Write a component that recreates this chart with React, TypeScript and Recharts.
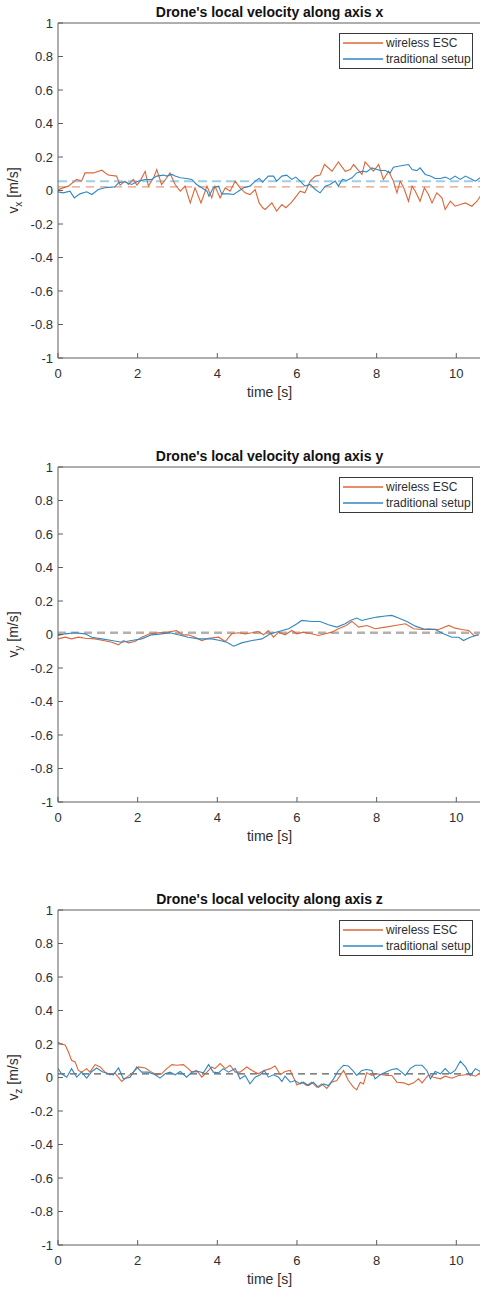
import React from 'react';
import { LineChart, Line, XAxis, YAxis, ReferenceLine, Legend } from 'recharts';

const FONT = '"Liberation Sans", Arial, Helvetica, sans-serif';

const X_TICKS = [0, 2, 4, 6, 8, 10];
const Y_TICKS = [-1, -0.8, -0.6, -0.4, -0.2, 0, 0.2, 0.4, 0.6, 0.8, 1];
const X_DOMAIN = [0, 10.62];
const Y_DOMAIN = [-1, 1];
const SERIES_NAMES = ['wireless ESC', 'traditional setup'];
const TITLES = [
  "Drone's local velocity along axis x",
  "Drone's local velocity along axis y",
  "Drone's local velocity along axis z",
];
const AXIS_SUBS = ['x', 'y', 'z'];
const X_LABEL = 'time [s]';

// ---------- axis x ----------
const VX_WIRELESS_T = [0, 0.26, 0.47, 0.59, 0.68, 0.89, 1.1, 1.26, 1.47, 1.56, 1.68, 1.77, 1.89, 1.98, 2.06, 2.19, 2.27, 2.4, 2.48, 2.6, 2.73, 2.81, 2.94, 3.07, 3.19, 3.32, 3.44, 3.59, 3.74, 3.86, 3.94, 4.07, 4.2, 4.32, 4.45, 4.57, 4.7, 4.82, 4.95, 5.05, 5.14, 5.2, 5.37, 5.49, 5.62, 5.72, 5.85, 5.95, 6.08, 6.2, 6.33, 6.46, 6.58, 6.69, 6.88, 7.04, 7.21, 7.34, 7.42, 7.55, 7.63, 7.71, 7.84, 7.92, 8.05, 8.17, 8.3, 8.42, 8.51, 8.59, 8.68, 8.8, 8.89, 8.97, 9.09, 9.2, 9.3, 9.39, 9.51, 9.64, 9.72, 9.85, 9.97, 10.1, 10.23, 10.39, 10.52, 10.6];
const VX_WIRELESS_V = [0.005, 0.026, 0.066, 0.056, 0.105, 0.105, 0.121, 0.092, 0.086, 0.032, 0.056, 0.036, 0.066, 0.032, 0.056, 0.115, 0.026, 0.076, 0.125, 0.036, 0.076, 0.105, 0.036, -0.004, 0.026, -0.074, 0.016, -0.074, 0.026, -0.044, 0.026, -0.044, 0.016, -0.004, 0.056, 0.016, -0.014, -0.024, 0.006, -0.074, -0.103, -0.113, -0.074, -0.123, -0.084, -0.103, -0.074, -0.044, -0.004, -0.014, 0.056, 0.086, 0.092, 0.155, 0.115, 0.171, 0.115, 0.125, 0.155, 0.119, 0.096, 0.171, 0.135, 0.115, 0.155, 0.066, 0.115, 0.056, -0.014, 0.056, 0.016, -0.064, 0.026, -0.004, -0.064, 0.016, -0.024, -0.074, -0.014, -0.044, -0.113, -0.064, -0.094, -0.084, -0.074, -0.094, -0.064, -0.034];
const VX_TRAD_T = [0, 0.13, 0.3, 0.41, 0.55, 0.72, 0.85, 1.01, 1.18, 1.35, 1.43, 1.52, 1.68, 1.85, 2.02, 2.19, 2.35, 2.48, 2.65, 2.73, 2.86, 2.94, 3.07, 3.23, 3.36, 3.48, 3.61, 3.74, 3.79, 3.9, 4.03, 4.11, 4.28, 4.41, 4.53, 4.66, 4.82, 4.95, 5.05, 5.14, 5.2, 5.28, 5.41, 5.49, 5.62, 5.74, 5.87, 5.97, 6.08, 6.2, 6.33, 6.46, 6.58, 6.71, 6.83, 6.96, 7.04, 7.14, 7.25, 7.38, 7.5, 7.63, 7.75, 7.88, 8.01, 8.09, 8.22, 8.34, 8.42, 8.55, 8.68, 8.8, 8.89, 9.01, 9.09, 9.22, 9.35, 9.47, 9.6, 9.72, 9.85, 9.97, 10.1, 10.23, 10.35, 10.48, 10.6];
const VX_TRAD_V = [-0.008, -0.014, -0.004, -0.044, -0.02, -0.008, -0.024, 0.006, 0.016, 0.02, 0.022, 0.046, 0.052, 0.036, 0.056, 0.066, 0.066, 0.086, 0.092, 0.086, 0.096, 0.086, 0.076, 0.072, 0.066, 0.036, 0.016, -0.004, -0.034, 0.016, 0.026, -0.02, -0.02, -0.024, -0.004, 0.016, 0.026, 0.056, 0.072, 0.05, 0.066, 0.086, 0.086, 0.056, 0.086, 0.092, 0.066, 0.08, 0.056, 0.026, 0.036, 0.006, -0.014, 0.026, 0.036, 0.056, 0.026, 0.066, 0.06, 0.076, 0.105, 0.115, 0.111, 0.135, 0.125, 0.119, 0.119, 0.105, 0.139, 0.145, 0.151, 0.155, 0.125, 0.119, 0.135, 0.096, 0.086, 0.072, 0.072, 0.08, 0.066, 0.086, 0.066, 0.086, 0.072, 0.056, 0.076];
const VX_MEANS = [0.022, 0.055];

// ---------- axis y ----------
const VY_WIRELESS_T = [0, 0.18, 0.34, 0.51, 0.68, 0.93, 1.14, 1.35, 1.52, 1.64, 1.77, 1.93, 2.1, 2.31, 2.52, 2.77, 2.98, 3.11, 3.27, 3.44, 3.61, 3.78, 4.03, 4.2, 4.36, 4.53, 4.7, 4.87, 5.03, 5.16, 5.28, 5.41, 5.54, 5.7, 5.87, 6.0, 6.16, 6.37, 6.54, 6.71, 6.88, 7.04, 7.21, 7.38, 7.55, 7.76, 7.96, 8.22, 8.47, 8.72, 8.93, 9.14, 9.3, 9.56, 9.81, 9.97, 10.14, 10.31, 10.44, 10.56];
const VY_WIRELESS_V = [-0.026, -0.016, -0.026, -0.016, -0.022, -0.026, -0.036, -0.046, -0.062, -0.036, -0.05, -0.042, -0.016, 0.004, 0.01, 0.014, 0.024, -0.002, -0.002, -0.016, -0.036, -0.022, -0.016, -0.042, 0.004, 0.01, 0.004, 0.01, 0.018, -0.002, 0.024, -0.016, 0.014, -0.002, 0.024, 0.004, 0.014, 0.004, -0.006, 0.004, 0.014, 0.034, 0.05, 0.078, 0.044, 0.054, 0.034, 0.044, 0.054, 0.064, 0.034, 0.03, 0.034, 0.03, 0.054, 0.038, 0.03, 0.024, -0.006, -0.002];
const VY_TRAD_T = [0, 0.18, 0.43, 0.68, 0.85, 1.1, 1.35, 1.6, 1.85, 2.1, 2.35, 2.6, 2.81, 3.02, 3.27, 3.53, 3.86, 4.07, 4.24, 4.41, 4.61, 4.87, 5.12, 5.33, 5.54, 5.79, 6.0, 6.12, 6.37, 6.58, 6.79, 7.0, 7.21, 7.34, 7.5, 7.63, 7.8, 8.01, 8.22, 8.38, 8.55, 8.76, 8.97, 9.22, 9.47, 9.68, 9.89, 10.06, 10.18, 10.35, 10.56];
const VY_TRAD_V = [-0.006, 0.004, 0.01, 0.004, -0.016, -0.026, -0.036, -0.046, -0.036, -0.026, -0.002, 0.004, 0.01, -0.002, -0.016, -0.026, -0.026, -0.036, -0.046, -0.07, -0.05, -0.036, -0.026, 0.004, 0.018, 0.034, 0.064, 0.084, 0.078, 0.078, 0.058, 0.044, 0.064, 0.084, 0.098, 0.084, 0.094, 0.104, 0.11, 0.114, 0.098, 0.078, 0.05, 0.03, 0.03, 0.004, -0.016, -0.016, -0.036, -0.016, -0.002];
const VY_MEANS = [0.01];

// ---------- axis z ----------
const VZ_WIRELESS_T = [0, 0.09, 0.18, 0.26, 0.34, 0.43, 0.51, 0.59, 0.72, 0.8, 0.93, 1.06, 1.18, 1.31, 1.43, 1.6, 1.73, 1.89, 2.02, 2.19, 2.35, 2.48, 2.6, 2.73, 2.86, 2.98, 3.15, 3.27, 3.36, 3.48, 3.61, 3.74, 3.86, 3.94, 4.07, 4.2, 4.32, 4.45, 4.57, 4.74, 4.87, 5.03, 5.16, 5.33, 5.45, 5.58, 5.7, 5.83, 6.0, 6.12, 6.25, 6.37, 6.5, 6.62, 6.75, 6.87, 7.0, 7.17, 7.29, 7.42, 7.5, 7.59, 7.67, 7.75, 7.88, 8.01, 8.13, 8.26, 8.38, 8.51, 8.68, 8.8, 8.93, 9.05, 9.14, 9.3, 9.43, 9.6, 9.72, 9.89, 10.06, 10.23, 10.35, 10.48, 10.6];
const VZ_WIRELESS_V = [0.21, 0.198, 0.194, 0.154, 0.103, 0.093, 0.042, 0.032, 0.053, 0.032, 0.077, 0.063, 0.032, 0.016, 0.028, -0.024, 0.002, 0.032, 0.063, 0.057, 0.032, 0.016, 0.022, 0.053, 0.077, 0.073, 0.077, 0.053, 0.032, 0.042, 0.002, 0.032, 0.063, 0.053, 0.083, 0.053, 0.073, 0.032, 0.032, 0.063, 0.042, 0.022, 0.04, 0.053, 0.069, 0.016, 0.036, 0.042, -0.044, -0.028, -0.048, -0.028, -0.059, -0.038, -0.065, -0.028, -0.018, 0.042, -0.018, -0.059, -0.073, -0.028, -0.038, 0.028, 0.012, 0.022, 0.016, 0.012, 0.012, -0.028, -0.032, -0.044, -0.032, -0.008, -0.032, 0.016, 0.002, -0.008, 0.008, -0.004, 0.012, 0.016, 0.016, 0.008, 0.028];
const VZ_TRAD_T = [0, 0.09, 0.22, 0.34, 0.47, 0.59, 0.72, 0.85, 0.97, 1.1, 1.26, 1.39, 1.52, 1.64, 1.81, 1.98, 2.1, 2.27, 2.44, 2.56, 2.69, 2.81, 2.94, 3.07, 3.23, 3.36, 3.53, 3.65, 3.78, 3.9, 4.03, 4.15, 4.28, 4.45, 4.57, 4.7, 4.82, 4.95, 5.08, 5.18, 5.28, 5.41, 5.54, 5.62, 5.7, 5.83, 5.95, 6.08, 6.16, 6.29, 6.41, 6.54, 6.67, 6.79, 6.92, 7.04, 7.17, 7.29, 7.42, 7.5, 7.63, 7.75, 7.88, 7.96, 8.09, 8.22, 8.38, 8.51, 8.63, 8.72, 8.84, 8.97, 9.14, 9.26, 9.35, 9.47, 9.6, 9.72, 9.85, 9.97, 10.1, 10.23, 10.35, 10.48, 10.6];
const VZ_TRAD_V = [0.053, 0.022, 0.002, 0.053, 0.002, 0.032, -0.004, 0.036, 0.057, 0.036, 0.022, 0.016, 0.057, -0.008, 0.002, 0.063, 0.032, 0.032, 0.016, -0.004, 0.022, 0.032, 0.016, 0.036, 0.002, 0.032, 0.036, 0.028, 0.077, 0.032, 0.028, 0.053, 0.032, 0.053, -0.008, 0.012, -0.038, 0.002, 0.016, 0.042, 0.002, 0.016, 0.002, -0.024, 0.008, -0.028, -0.018, -0.038, -0.028, -0.048, -0.028, -0.059, -0.038, -0.048, -0.008, 0.042, 0.073, 0.069, 0.036, 0.012, 0.042, 0.048, 0.042, -0.008, 0.016, 0.032, 0.048, 0.053, 0.032, 0.012, 0.053, 0.073, 0.073, 0.042, -0.008, 0.036, 0.022, 0.053, 0.022, 0.042, 0.097, 0.063, 0.012, 0.053, 0.036];
const VZ_MEANS = [0.022];

const zip = (t: number[], v: number[]) => t.map((tt, i) => ({ t: tt, v: v[i] }));

const ORANGE = '#DC6637';
const BLUE = '#2F87C3';
const SERIES_COLORS = [ORANGE, BLUE];
const AXIS_COLOR = '#5e5e5e';
const TEXT_COLOR = '#2e2e2e';

type MeanStyle = { color: string; width: number; dash: string };

const XLabel = (props: any) => {
  const vb = props.viewBox || { x: 58, y: 358, width: 423 };
  return (
    <text x={vb.x + vb.width / 2} y={vb.y + 39} textAnchor="middle" fontSize={14} fill={TEXT_COLOR} fontFamily={FONT}>
      {X_LABEL}
    </text>
  );
};

const YLabel = (props: any) => {
  const vb = props.viewBox || { x: 0, y: 23, width: 58, height: 335 };
  const cx = vb.x + 18;
  const cy = vb.y + vb.height / 2;
  return (
    <text
      x={cx}
      y={cy}
      transform={`rotate(-90 ${cx} ${cy})`}
      textAnchor="middle"
      fontSize={14}
      fill={TEXT_COLOR}
      fontFamily={FONT}
    >
      <tspan>v</tspan>
      <tspan dy={4} fontSize={10}>{props.sub}</tspan>
      <tspan dy={-4}> [m/s]</tspan>
    </text>
  );
};

const LegendBox = () => (
  <div
    style={{
      border: '1px solid #3a3a3a',
      background: '#fff',
      width: 132,
      padding: '1px 0',
      fontFamily: FONT,
      fontSize: 12,
      color: TEXT_COLOR,
      boxSizing: 'content-box',
    }}
  >
    {SERIES_NAMES.map((name, i) => (
      <div key={name} style={{ display: 'flex', alignItems: 'center', height: 16, lineHeight: '16px' }}>
        <svg width={46} height={16} style={{ display: 'block', flex: '0 0 46px' }}>
          <line x1={3} x2={43} y1={8} y2={8} stroke={SERIES_COLORS[i]} strokeWidth={1.3} />
        </svg>
        <span style={{ whiteSpace: 'nowrap' }}>{name}</span>
      </div>
    ))}
  </div>
);

type PanelProps = {
  title: string;
  sub: string;
  wireless: { t: number; v: number }[];
  trad: { t: number; v: number }[];
  means: number[];
  meanStyles: MeanStyle[];
};

const Panel = ({ title, sub, wireless, trad, means, meanStyles }: PanelProps) => (
  <div style={{ position: 'relative', width: 481, height: 444 }}>
    <div
      style={{
        position: 'absolute',
        left: 58,
        width: 423,
        top: 4,
        textAlign: 'center',
        fontFamily: FONT,
        fontSize: 14,
        fontWeight: 'bold',
        lineHeight: '17px',
        color: '#111',
        whiteSpace: 'nowrap',
        zIndex: 2,
      }}
    >
      {title}
    </div>
    <LineChart width={481} height={444} margin={{ top: 22, right: 0, bottom: 0, left: 0 }}>
      <XAxis
        xAxisId="top"
        orientation="top"
        dataKey="t"
        type="number"
        domain={X_DOMAIN}
        ticks={X_TICKS}
        allowDataOverflow
        interval={0}
        height={1}
        tick={false}
        tickSize={-5}
        stroke={AXIS_COLOR}
      />
      <XAxis
        xAxisId="b"
        dataKey="t"
        type="number"
        domain={X_DOMAIN}
        ticks={X_TICKS}
        allowDataOverflow
        interval={0}
        height={86}
        tickSize={-5}
        tickMargin={16}
        stroke={AXIS_COLOR}
        tick={{ fontSize: 13, fill: TEXT_COLOR, fontFamily: FONT }}
        label={<XLabel />}
      />
      <YAxis
        yAxisId="l"
        type="number"
        domain={Y_DOMAIN}
        ticks={Y_TICKS}
        allowDataOverflow
        interval={0}
        width={58}
        tickSize={-5}
        tickMargin={10}
        stroke={AXIS_COLOR}
        tick={{ fontSize: 13, fill: TEXT_COLOR, fontFamily: FONT }}
        label={<YLabel sub={sub} />}
      />
      <YAxis
        yAxisId="r"
        orientation="right"
        type="number"
        domain={Y_DOMAIN}
        ticks={Y_TICKS}
        allowDataOverflow
        interval={0}
        width={0}
        tick={false}
        tickSize={-5}
        stroke={AXIS_COLOR}
      />
      {means.map((m, i) => (
        <ReferenceLine
          key={i}
          xAxisId="b"
          yAxisId="l"
          y={m}
          stroke={meanStyles[i].color}
          strokeWidth={meanStyles[i].width}
          strokeDasharray={meanStyles[i].dash}
          ifOverflow="hidden"
        />
      ))}
      <Line
        xAxisId="b"
        yAxisId="l"
        data={wireless}
        dataKey="v"
        name={SERIES_NAMES[0]}
        stroke={ORANGE}
        strokeWidth={1.1}
        dot={false}
        activeDot={false}
        isAnimationActive={false}
      />
      <Line
        xAxisId="b"
        yAxisId="l"
        data={trad}
        dataKey="v"
        name={SERIES_NAMES[1]}
        stroke={BLUE}
        strokeWidth={1.1}
        dot={false}
        activeDot={false}
        isAnimationActive={false}
      />
      <Legend
        layout="horizontal"
        verticalAlign="middle"
        align="center"
        content={<LegendBox />}
        wrapperStyle={{ top: 33, left: 339, width: 134, height: 'auto', margin: 0 }}
      />
    </LineChart>
  </div>
);

const PANEL_TOPS = [0, 444, 887];

export default function App() {
  const panels: PanelProps[] = [
    {
      title: TITLES[0],
      sub: AXIS_SUBS[0],
      wireless: zip(VX_WIRELESS_T, VX_WIRELESS_V),
      trad: zip(VX_TRAD_T, VX_TRAD_V),
      means: VX_MEANS,
      meanStyles: [
        { color: '#EA9C7B', width: 1.3, dash: '8 6' },
        { color: '#9FCDE8', width: 2, dash: '9 5' },
      ],
    },
    {
      title: TITLES[1],
      sub: AXIS_SUBS[1],
      wireless: zip(VY_WIRELESS_T, VY_WIRELESS_V),
      trad: zip(VY_TRAD_T, VY_TRAD_V),
      means: VY_MEANS,
      meanStyles: [{ color: '#b6b0ad', width: 2.5, dash: '8 5' }],
    },
    {
      title: TITLES[2],
      sub: AXIS_SUBS[2],
      wireless: zip(VZ_WIRELESS_T, VZ_WIRELESS_V),
      trad: zip(VZ_TRAD_T, VZ_TRAD_V),
      means: VZ_MEANS,
      meanStyles: [{ color: '#5a5a5a', width: 1.2, dash: '7 5' }],
    },
  ];
  return (
    <div
      style={{
        position: 'absolute',
        left: 0,
        top: 0,
        width: 480,
        height: 1290,
        overflow: 'hidden',
        background: '#fff',
        fontFamily: FONT,
      }}
    >
      {panels.map((p, i) => (
        <div key={i} style={{ position: 'absolute', left: 0, top: PANEL_TOPS[i], width: 481, height: 444 }}>
          <Panel {...p} />
        </div>
      ))}
    </div>
  );
}
